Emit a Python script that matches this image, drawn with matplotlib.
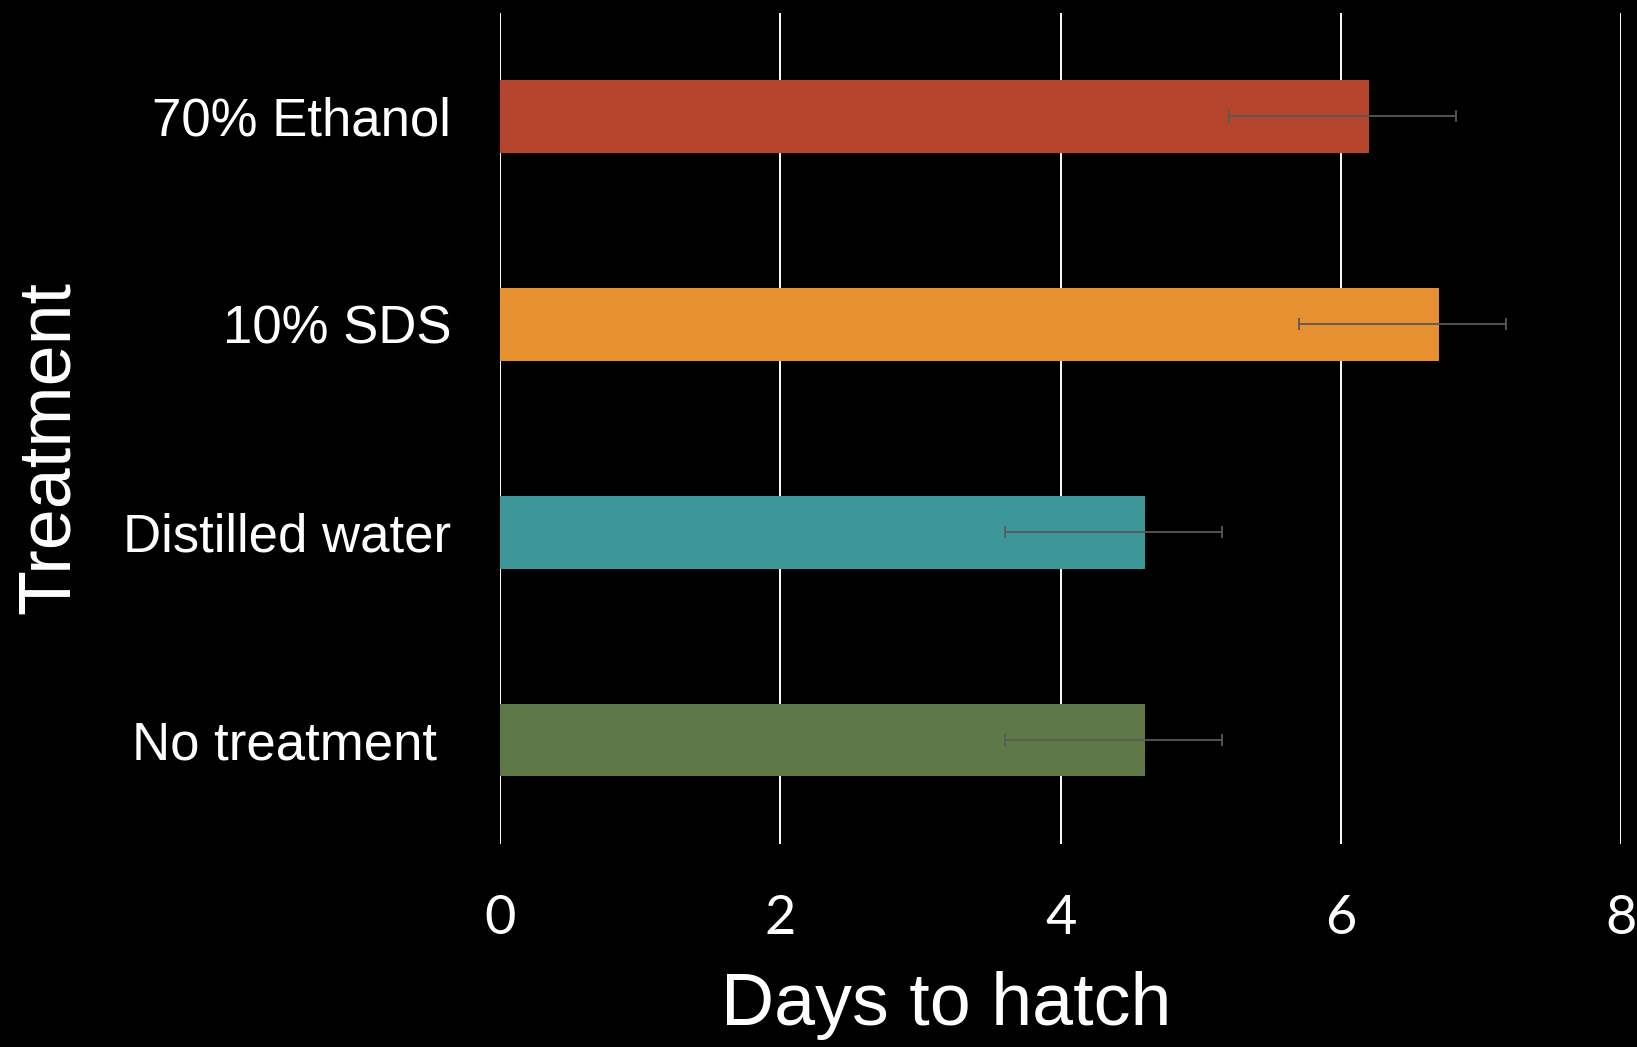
import numpy as np
import matplotlib
matplotlib.use("Agg")
import matplotlib.pyplot as plt

# data
treatments = ["70% Ethanol", "10% SDS", "Distilled water", "No treatment "]
days = [6.2, 6.7, 4.6, 4.6]
err_minus = [1.0, 1.0, 1.0, 1.0]
err_plus = [0.62, 0.48, 0.55, 0.55]
colors = ["#B4442C", "#E79030", "#3D9799", "#5E7947"]
xticks = [0, 2, 4, 6, 8]

fig = plt.figure(figsize=(16.37, 10.47), dpi=100, facecolor="black")
ax = fig.add_axes([0.3054, 0.194, 0.685, 0.794])
ax.set_facecolor("black")

ypos = np.arange(len(treatments))
ax.barh(ypos, days, height=0.35, color=colors, zorder=3)
ax.errorbar(days, ypos, xerr=[err_minus, err_plus], fmt="none",
            ecolor="#595959", elinewidth=1.3, capsize=4.5, capthick=1.3, zorder=4)

ax.set_xlim(0, 8)
ax.set_ylim(len(treatments) - 0.5, -0.5)
ax.set_xticks(xticks)
ax.set_xticklabels([str(t) for t in xticks], fontsize=39, color="white",
                   family="Lato")
ax.set_yticks(ypos)
ax.set_yticklabels(treatments, fontsize=38, color="white", family="Liberation Sans")
ax.tick_params(axis="both", length=0)
ax.tick_params(axis="y", pad=35)
ax.tick_params(axis="x", pad=36)

for s in ax.spines.values():
    s.set_visible(False)
for t in xticks:
    ax.axvline(t, color="white", lw=1.4, zorder=1)

fig.text(0.578, 0.040, "Days to hatch", fontsize=53, color="white",
         family="Liberation Sans", ha="center", va="center")
fig.text(0.030, 0.573, "Treatment", fontsize=53, color="white",
         family="Liberation Sans", ha="center", va="center", rotation=90)

fig.savefig("out.png", dpi=100, facecolor="black")
